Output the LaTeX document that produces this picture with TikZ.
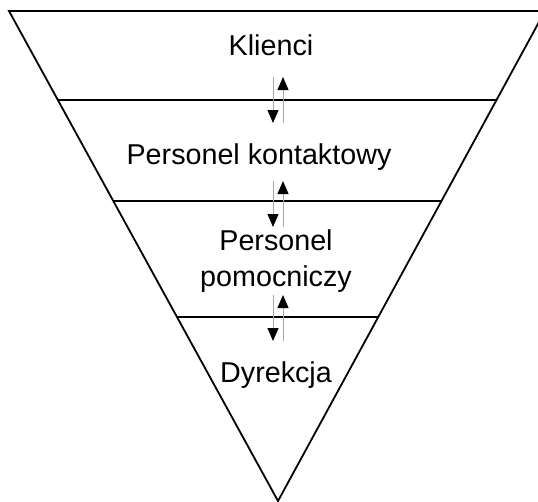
\documentclass[tikz,border=0pt]{standalone}
\usepackage{fontspec}
\setmainfont{Liberation Sans}
\usetikzlibrary{arrows.meta, calc}

\begin{document}
\begin{tikzpicture}[
    x=1pt, y=-1pt,
    >=Stealth,
    level/.style={draw=none, font=\fontsize{28.7}{36}\selectfont, align=center, inner sep=0pt},
    edge/.style={line width=1.8pt, line join=miter},
    divider/.style={line width=1.8pt},
    flow/.style={gray!70, line width=1pt, -{Triangle[length=13pt, width=11pt, color=black]}},
]

\useasboundingbox (0,0) rectangle (538,501);

% Pyramid corners
\coordinate (TopLeft) at (9,11);
\coordinate (TopRight) at (545,11);
\coordinate (Apex) at (278,501);

\begin{scope}
\clip (0,0) rectangle (538,501);
\draw[edge] (TopLeft) -- (TopRight) -- (Apex) -- cycle;
\end{scope}

% Dividers
\draw[divider] ($(TopLeft)!0.1816!(Apex)$) -- ($(TopRight)!0.1816!(Apex)$);
\draw[divider] ($(TopLeft)!0.3878!(Apex)$) -- ($(TopRight)!0.3878!(Apex)$);
\draw[divider] ($(TopLeft)!0.6245!(Apex)$) -- ($(TopRight)!0.6245!(Apex)$);

% Levels
\node (Klienci) at (271,45) [level] {Klienci};
\node (Kontakt) at (259,157) [level] {Personel kontaktowy};
\node (Pomoc) at (276,261) [level] {Personel\\pomocniczy};
\node (Dyrekcja) at (276,375) [level] {Dyrekcja};

% Arrow ends
\coordinate (DownA1) at (273,77);  \coordinate (DownA2) at (273,123);
\coordinate (UpA1) at (283,123);   \coordinate (UpA2) at (283,77);
\coordinate (DownB1) at (273,181); \coordinate (DownB2) at (273,227);
\coordinate (UpB1) at (283,227);   \coordinate (UpB2) at (283,181);
\coordinate (DownC1) at (273,295); \coordinate (DownC2) at (273,341);
\coordinate (UpC1) at (283,341);   \coordinate (UpC2) at (283,295);

% Flows between levels
\draw[flow] (DownA1) -- (DownA2);
\draw[flow] (UpA1) -- (UpA2);
\draw[flow] (DownB1) -- (DownB2);
\draw[flow] (UpB1) -- (UpB2);
\draw[flow] (DownC1) -- (DownC2);
\draw[flow] (UpC1) -- (UpC2);

\end{tikzpicture}
\end{document}
